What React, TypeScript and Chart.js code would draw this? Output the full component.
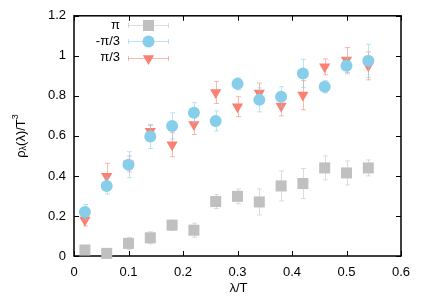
import React, { useEffect, useRef } from "react";
import { Chart, registerables } from "chart.js";

Chart.register(...registerables);

// ---- data ----
const lambdaT = [0.02, 0.06, 0.1, 0.14, 0.18, 0.22, 0.26, 0.3, 0.34, 0.38, 0.42, 0.46, 0.5, 0.54];

const piValues = [0.03, 0.013, 0.063, 0.091, 0.154, 0.129, 0.272, 0.298, 0.27, 0.35, 0.362, 0.44, 0.415, 0.44];
const piErrors = [0.02, 0.02, 0.03, 0.03, 0.025, 0.035, 0.035, 0.037, 0.065, 0.075, 0.075, 0.06, 0.06, 0.04];

const minusPi3Values = [0.22, 0.35, 0.456, 0.597, 0.65, 0.716, 0.675, 0.86, 0.78, 0.796, 0.912, 0.846, 0.95, 0.975];
const minusPi3Errors = [0.037, 0.04, 0.065, 0.06, 0.065, 0.05, 0.05, 0.03, 0.06, 0.05, 0.07, 0.03, 0.04, 0.083];

const pi3Values = [0.18, 0.398, 0.46, 0.623, 0.556, 0.657, 0.817, 0.746, 0.814, 0.75, 0.804, 0.945, 0.979, 0.95];
const pi3Errors = [0.03, 0.065, 0.04, 0.03, 0.06, 0.05, 0.055, 0.05, 0.05, 0.05, 0.073, 0.04, 0.063, 0.07];

const seriesLabels = ["π", "-π/3", "π/3"];
const xTickValues = [0, 0.1, 0.2, 0.3, 0.4, 0.5, 0.6];
const yTickValues = [0, 0.2, 0.4, 0.6, 0.8, 1, 1.2];
const xTitle = "λ/T";

const FONT = "'Liberation Sans', Arial, Helvetica, sans-serif";

const series = [
  { label: seriesLabels[0], values: piValues, errors: piErrors, color: "#c0c0c0", errColor: "rgba(192,192,192,0.55)", style: "rect", radius: 7.8, rotation: 0 },
  { label: seriesLabels[1], values: minusPi3Values, errors: minusPi3Errors, color: "#87ceeb", errColor: "rgba(135,206,235,0.55)", style: "circle", radius: 6, rotation: 0 },
  { label: seriesLabels[2], values: pi3Values, errors: pi3Errors, color: "#fa8072", errColor: "rgba(250,128,114,0.55)", style: "triangle", radius: 6.5, rotation: 180 },
];

function drawMarker(ctx: CanvasRenderingContext2D, style: string, x: number, y: number, r: number, color: string) {
  ctx.save();
  ctx.fillStyle = color;
  ctx.beginPath();
  if (style === "rect") {
    const s = Math.SQRT1_2 * r;
    ctx.rect(x - s, y - s, 2 * s, 2 * s);
  } else if (style === "circle") {
    ctx.arc(x, y, r, 0, Math.PI * 2);
  } else {
    const w = r * Math.sin(Math.PI / 3);
    ctx.moveTo(x, y + r);
    ctx.lineTo(x - w, y - r / 2);
    ctx.lineTo(x + w, y - r / 2);
    ctx.closePath();
  }
  ctx.fill();
  ctx.restore();
}

const errorBarPlugin = {
  id: "errorBars",
  beforeDatasetDraw(chart: any, args: any) {
    const ds = chart.data.datasets[args.index];
    const s = series[args.index];
    const ctx = chart.ctx as CanvasRenderingContext2D;
    const xs = chart.scales.x;
    const ys = chart.scales.y;
    ctx.save();
    ctx.strokeStyle = s.errColor;
    ctx.lineWidth = 1;
    ds.data.forEach((p: any, i: number) => {
      const e = s.errors[i];
      const px = Math.round(xs.getPixelForValue(p.x)) + 0.5;
      const y1 = ys.getPixelForValue(p.y - e);
      const y2 = ys.getPixelForValue(p.y + e);
      ctx.beginPath();
      ctx.moveTo(px, y1);
      ctx.lineTo(px, y2);
      ctx.moveTo(px - 2.5, y1);
      ctx.lineTo(px + 2.5, y1);
      ctx.moveTo(px - 2.5, y2);
      ctx.lineTo(px + 2.5, y2);
      ctx.stroke();
    });
    ctx.restore();
  },
};

const framePlugin = {
  id: "frame",
  beforeDatasetsDraw(chart: any) {
    const ctx = chart.ctx as CanvasRenderingContext2D;
    const { left, right, top, bottom } = chart.chartArea;
    const xs = chart.scales.x;
    const ys = chart.scales.y;
    ctx.save();
    ctx.strokeStyle = "#000";
    ctx.lineWidth = 1;
    ctx.beginPath();
    xTickValues.forEach((v) => {
      const px = Math.round(xs.getPixelForValue(v)) + 0.5;
      ctx.moveTo(px, bottom);
      ctx.lineTo(px, bottom - 5);
      ctx.moveTo(px, top);
      ctx.lineTo(px, top + 5);
    });
    yTickValues.forEach((v) => {
      const py = Math.round(ys.getPixelForValue(v)) + 0.5;
      ctx.moveTo(left, py);
      ctx.lineTo(left + 5, py);
      ctx.moveTo(right, py);
      ctx.lineTo(right - 5, py);
    });
    ctx.stroke();
    ctx.lineWidth = 1.5;
    ctx.strokeRect(left, top, right - left, bottom - top);
    ctx.restore();
  },
  afterDraw(chart: any) {
    const ctx = chart.ctx as CanvasRenderingContext2D;
    const { left, right, bottom } = chart.chartArea;
    ctx.save();
    ctx.fillStyle = "#000";
    // x title
    ctx.font = `13px ${FONT}`;
    ctx.textAlign = "center";
    ctx.textBaseline = "middle";
    ctx.fillText(xTitle, (left + right) / 2 + 1, bottom + 32);

    // y title: ρ_λ(λ)/T^3, rotated
    ctx.translate(21, 136);
    ctx.rotate(-Math.PI / 2);
    const big = `13px ${FONT}`;
    const small = `9px ${FONT}`;
    const parts = [
      { t: "ρ", f: big, dy: 0 },
      { t: "λ", f: small, dy: 3 },
      { t: "(λ)/T", f: big, dy: 0 },
      { t: "3", f: small, dy: -5 },
    ];
    let total = 0;
    parts.forEach((p) => {
      ctx.font = p.f;
      total += ctx.measureText(p.t).width;
    });
    let cx = -total / 2;
    ctx.textAlign = "left";
    parts.forEach((p) => {
      ctx.font = p.f;
      ctx.fillText(p.t, cx, p.dy);
      cx += ctx.measureText(p.t).width;
    });
    ctx.restore();

    // legend
    ctx.save();
    ctx.font = `13px ${FONT}`;
    ctx.textAlign = "right";
    ctx.textBaseline = "middle";
    series.forEach((s, i) => {
      const y = 25 + i * 16.3;
      ctx.fillStyle = "#000";
      ctx.fillText(s.label, 120, y);
      ctx.strokeStyle = s.errColor;
      ctx.lineWidth = 1;
      const yy = Math.round(y) + 0.5;
      ctx.beginPath();
      ctx.moveTo(128, yy);
      ctx.lineTo(169, yy);
      ctx.moveTo(128.5, yy - 2.5);
      ctx.lineTo(128.5, yy + 2.5);
      ctx.moveTo(168.5, yy - 2.5);
      ctx.lineTo(168.5, yy + 2.5);
      ctx.stroke();
      drawMarker(ctx, s.style, 148.5, yy, s.radius, s.color);
    });
    ctx.restore();
  },
};

export default function App() {
  const ref = useRef<HTMLCanvasElement | null>(null);

  useEffect(() => {
    if (!ref.current) return;
    Chart.defaults.font.family = FONT;
    Chart.defaults.font.size = 13;
    Chart.defaults.color = "#000";

    const datasets = series.map((s) => ({
      label: s.label,
      data: lambdaT.map((x, i) => ({ x, y: s.values[i] })),
      backgroundColor: s.color,
      borderColor: s.color,
      pointStyle: s.style as any,
      pointRadius: s.radius,
      pointHoverRadius: s.radius,
      pointRotation: s.rotation,
      pointBorderWidth: 0,
      showLine: false,
      clip: false as any,
    }));

    const chart = new Chart(ref.current, {
      type: "scatter",
      data: { datasets },
      options: {
        responsive: false,
        animation: false,
        layout: { padding: { top: 15, right: 35, left: 0, bottom: 0 } },
        plugins: { legend: { display: false }, tooltip: { enabled: false } },
        scales: {
          x: {
            type: "linear",
            min: 0,
            max: 0.6,
            afterBuildTicks: (scale: any) => {
              scale.ticks = xTickValues.map((v) => ({ value: v }));
            },
            afterFit: (scale: any) => {
              scale.height = 49;
            },
            ticks: {
              padding: 9,
              maxRotation: 0,
              callback: (v: any) => String(Number(Number(v).toFixed(1))),
            },
            grid: { display: false, drawTicks: false },
            border: { display: false },
          },
          y: {
            type: "linear",
            min: 0,
            max: 1.2,
            afterBuildTicks: (scale: any) => {
              scale.ticks = yTickValues.map((v) => ({ value: v }));
            },
            afterFit: (scale: any) => {
              scale.width = 74;
            },
            ticks: {
              padding: 8,
              callback: (v: any) => String(Number(Number(v).toFixed(1))),
            },
            grid: { display: false, drawTicks: false },
            border: { display: false },
          },
        },
      },
      plugins: [errorBarPlugin, framePlugin],
    });
    return () => chart.destroy();
  }, []);

  return (
    <div style={{ position: "fixed", left: 0, top: 0, width: 436, height: 305, background: "#fff" }}>
      <canvas ref={ref} width={436} height={305} style={{ display: "block" }} />
    </div>
  );
}
